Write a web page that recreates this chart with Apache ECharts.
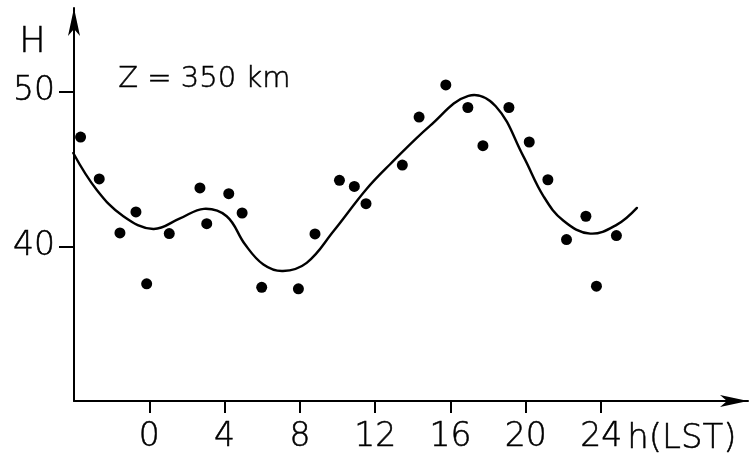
<!DOCTYPE html>
<html>
<head>
<meta charset="utf-8">
<script src="https://cdn.jsdelivr.net/npm/echarts@6/dist/echarts.min.js"></script>
<style>html,body{margin:0;padding:0;background:#fff}#c{width:752px;height:464px}</style>
</head>
<body>
<div id="c"></div>
<script>
// Observed points: local time (h) and H value
var obsHour = [-3.65, -2.66, -1.56, -0.71, -0.14, 1.06, 2.69, 3.05, 4.22, 4.93, 5.97, 7.92, 8.80, 10.10, 10.89, 11.51, 13.44, 14.33, 15.75, 16.92, 17.72, 19.10, 20.18, 21.17, 22.16, 23.19, 23.75, 24.81];
var obsH    = [47.06, 44.35, 40.86, 42.22, 37.57, 40.82, 43.77, 41.46, 43.40, 42.15, 37.35, 37.25, 40.80, 44.26, 43.87, 42.75, 45.25, 48.35, 50.43, 48.97, 46.50, 48.97, 46.74, 44.30, 40.43, 41.94, 37.42, 40.69];
// Fitted curve
var fitHour = [-4.04, -2.80, -1.38, 0.21, 1.63, 2.90, 4.11, 5.09, 6.06, 7.10, 8.36, 9.78, 11.54, 12.79, 14.92, 16.95, 18.40, 19.87, 20.94, 22.00, 23.42, 24.84, 25.90];
var fitH    = [46.03, 43.66, 41.94, 41.12, 41.80, 42.42, 41.94, 40.11, 38.82, 38.40, 38.93, 40.97, 43.70, 45.30, 47.80, 49.72, 49.05, 45.81, 43.23, 41.65, 40.82, 41.40, 42.48];
var xTicks = [0, 4, 8, 12, 16, 20, 24];
var yTicks = [40, 50];
var xUnit = 'h(LST)';
var yName = 'H';
var note = 'Z = 350 km';

var FONT = 'DejaVu Sans';
var labelStyle = {color: '#000', fontFamily: FONT, fontSize: 33, fontWeight: 200, textBorderColor: '#000', textBorderWidth: 0.5};
var chart = echarts.init(document.getElementById('c'), null, {renderer: 'canvas'});
chart.setOption({
  animation: false,
  backgroundColor: '#fff',
  grid: {left: 74, right: 4, top: 8, bottom: 63, containLabel: false},
  xAxis: {
    type: 'value', min: -4, max: 31.8,
    splitLine: {show: false},
    axisLine: {onZero: false, symbol: ['none', 'arrow'], symbolSize: [9, 28], lineStyle: {color: '#000', width: 2}},
    axisTick: {show: true, inside: false, length: 12, customValues: xTicks, lineStyle: {color: '#000', width: 2}},
    axisLabel: Object.assign({customValues: xTicks, margin: 20}, labelStyle)
  },
  yAxis: {
    type: 'value', min: 30, max: 55.4,
    splitLine: {show: false},
    axisLine: {onZero: false, symbol: ['none', 'arrow'], symbolSize: [9, 28], lineStyle: {color: '#000', width: 2}},
    axisTick: {show: true, inside: false, length: 15, customValues: yTicks, lineStyle: {color: '#000', width: 2}},
    axisLabel: Object.assign({customValues: yTicks, margin: 19}, labelStyle)
  },
  graphic: [
    {type: 'text', left: 19, top: 25, style: {text: yName, fill: '#000', font: '200 35px "DejaVu Sans"', stroke: '#000', lineWidth: 0.5}},
    {type: 'text', left: 118, top: 65, style: {text: note, fill: '#000', font: '200 29px "DejaVu Sans"', stroke: '#000', lineWidth: 0.5}},
    {type: 'text', left: 627, top: 422, style: {text: xUnit, fill: '#000', font: '200 34px "DejaVu Sans"', stroke: '#000', lineWidth: 0.5}}
  ],
  series: [
    {
      type: 'custom', coordinateSystem: 'cartesian2d', z: 2, silent: true,
      data: fitHour.map(function (x, i) { return [x, fitH[i]]; }),
      encode: {x: 0, y: 1},
      renderItem: function (params, api) {
        if (params.dataIndex !== 0) return null;
        var pts = fitHour.map(function (x, i) { return api.coord([x, fitH[i]]); });
        return {
          type: 'polyline',
          shape: {points: pts, smooth: 0.4},
          style: {stroke: '#000', lineWidth: 2.4, fill: null, lineJoin: 'round', lineCap: 'round'}
        };
      }
    },
    {
      type: 'scatter', data: obsHour.map(function (x, i) { return [x, obsH[i]]; }),
      symbol: 'circle', symbolSize: 11, itemStyle: {color: '#000', opacity: 1}, z: 3
    }
  ]
});
</script>
</body>
</html>
